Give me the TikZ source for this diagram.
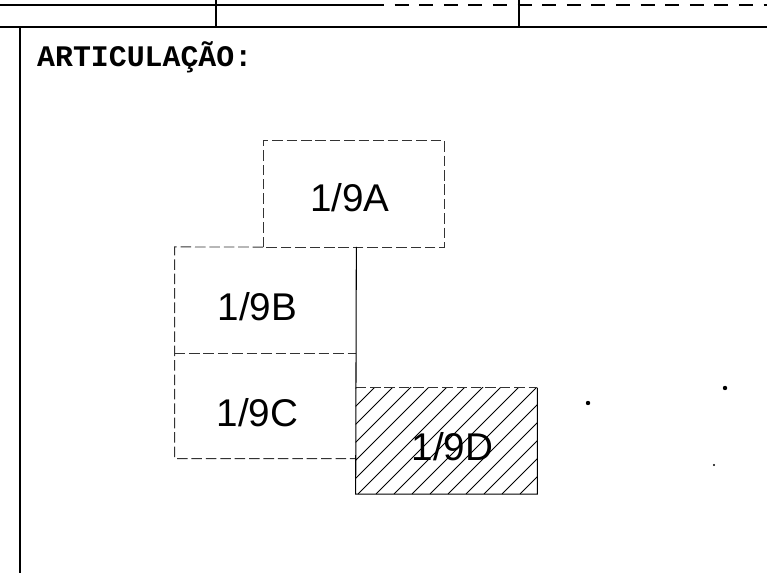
\documentclass[tikz,border=0pt]{standalone}
\usepackage{fontspec}
\setmainfont{Liberation Sans}
\newfontfamily\plotmono{Liberation Mono}
\usepackage{tikz}
\usetikzlibrary{calc}
\usetikzlibrary{positioning}

\tikzset{
    sheetbox/.style={minimum width=3.62cm, minimum height=2.11cm, inner sep=0pt},
    sheetlabel/.style={inner sep=0pt, font=\fontsize{22}{24}\selectfont},
    sheetedge/.style={draw=black!80, line width=0.5pt, dash pattern=on 6pt off 2.2pt},
    frameline/.style={line width=1.6pt, black}
}

\begin{document}
\begin{tikzpicture}[x=0.02cm, y=-0.02cm]
                        \useasboundingbox (0,0) rectangle (767,573);
                        % Title block lines
                        \draw[line width=0.6pt] (0,5) -- (370,5);
                        \draw[line width=0.6pt, dash pattern=on 8pt off 6pt] (370,5) -- (767,5);
                        \draw[frameline] (0,27) -- (767,27);
                        \draw[line width=0.8pt] (216,0) -- (216,27);
                        \draw[line width=0.8pt] (519,0) -- (519,27);
                        \draw[frameline] (20,27) -- (20,573);
                        % Heading
                        \node[anchor=west, font=\plotmono\bfseries\fontsize{17}{20}\selectfont] (titulo) at (31,57) {ARTICULAÇÃO:};
                        % Sheets
                        \foreach \n/\cx/\cy/\dx/\dy in {
                              A/354/194/-4/4,
                              B/265.5/300/-8/7,
                              C/265.5/405.5/-8/7,
                              D/446.5/441/6/6
                        } {
                            \node[sheetbox] (folha\n) at (\cx,\cy) {};
                            \node[sheetlabel] (rotulo\n) at ($(folha\n)+(\dx,\dy)$) {1/9\n};
                        }
                        % Hatching of the selected sheet
                        \begin{scope}
                            \clip (folhaD.north west) rectangle (folhaD.south east);
                            \foreach \x in {250,268,...,550} {
                                \draw[line width=0.5pt] (\x,494) -- ++(110,-110);
                            }
                        \end{scope}
                        % Dashed sheet edges
                        \draw[sheetedge] (folhaA.south west) -- (folhaA.north west) -- (folhaA.north east) -- (folhaA.south east) -- (folhaA.south west);
                        \draw[sheetedge] (folhaA.south west) -- (folhaB.north west) -- (folhaC.south west) -- (folhaC.south east);
                        \draw[sheetedge] (folhaB.south west) -- (folhaB.south east);
                        \draw[sheetedge] (folhaD.north west) -- (folhaD.north east);
                        % Solid edges
                        \draw[line width=0.6pt] (folhaB.north east) -- (folhaD.south west) -- (folhaD.south east) -- (folhaD.north east);
                        % Marks on the right
                        \fill (588,403) circle (2.2);
                        \fill (725,388) circle (2.2);
                        \fill (714,465) circle (1.2);
                    \end{tikzpicture}
\end{document}
